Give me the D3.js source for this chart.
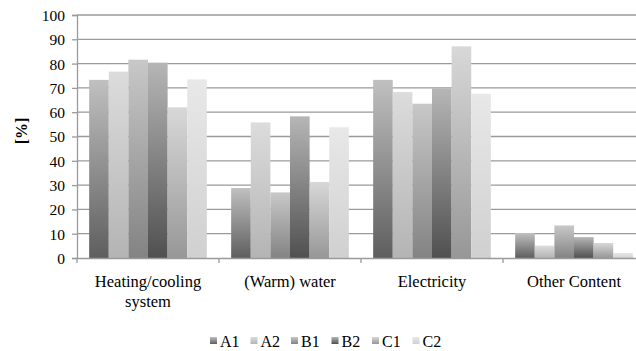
<!DOCTYPE html>
<html>
<head>
<meta charset="utf-8">
<script src="https://cdn.jsdelivr.net/npm/d3@7"></script>
<style>
body { margin: 0; background: #fff; }
</style>
</head>
<body>
<div id="chart"></div>
<script>
var categories = ["Heating/cooling system", "(Warm) water", "Electricity", "Other Content"];
var series = ["A1", "A2", "B1", "B2", "C1", "C2"];
var A1 = [73.3, 28.8, 73.3, 10.3];
var A2 = [76.7, 55.8, 68.3, 5.1];
var B1 = [81.6, 27.0, 63.5, 13.4];
var B2 = [80.4, 58.3, 69.8, 8.6];
var C1 = [62.0, 31.3, 87.1, 6.2];
var C2 = [73.5, 53.8, 67.6, 2.1];
var yTicks = [0, 10, 20, 30, 40, 50, 60, 70, 80, 90, 100];

var values = {A1: A1, A2: A2, B1: B1, B2: B2, C1: C1, C2: C2};

var FONT = "'Liberation Serif', 'Times New Roman', serif";

// gradient stops per series, bottom -> top
var shades = {
	A1: ["#5e5e5e", "#c0c0c0"],
	A2: ["#b4b4b4", "#dcdcdc"],
	B1: ["#838383", "#c8c8c8"],
	B2: ["#505050", "#b6b6b6"],
	C1: ["#979797", "#d8d8d8"],
	C2: ["#d0d0d0", "#e8e8e8"]
};

var margin = {top: 15, right: 0, bottom: 93, left: 77},
	width = 568,
	height = 243;

var svg = d3.select("#chart")
	.append("svg")
		.attr("width", 636)
		.attr("height", 351)
		.style("font-family", FONT);

var defs = svg.append("defs");
series.forEach(function(s) {
	var g = defs.append("linearGradient")
		.attr("id", "grad-" + s)
		.attr("x1", 0).attr("y1", 1)
		.attr("x2", 0).attr("y2", 0);
	g.append("stop").attr("offset", "0%").attr("stop-color", shades[s][0]);
	g.append("stop").attr("offset", "100%").attr("stop-color", shades[s][1]);
});

var g = svg.append("g")
	.attr("transform", "translate(" + margin.left + "," + margin.top + ")");

var x = d3.scaleBand()
	.domain(categories)
	.range([0, width])
	.paddingInner(0)
	.paddingOuter(0);

var xSub = d3.scaleBand()
	.domain(series)
	.range([0, x.bandwidth()])
	.paddingOuter(0.62)
	.paddingInner(0);

var y = d3.scaleLinear()
	.domain([0, 100])
	.range([height, 0]);

// gridlines
g.append("g")
	.selectAll("line")
	.data(yTicks.slice(1))
	.enter().append("line")
		.attr("x1", 0)
		.attr("x2", width)
		.attr("y1", function(d) { return y(d); })
		.attr("y2", function(d) { return y(d); })
		.attr("stroke", "#9a9a9a")
		.attr("stroke-width", 1.3);

// y axis
var yAxis = g.append("g")
	.call(d3.axisLeft(y).tickValues(yTicks).tickSize(5).tickPadding(7));
yAxis.attr("font-family", null).attr("font-size", null);
yAxis.select(".domain").attr("stroke", "#9a9a9a").attr("stroke-width", 1.3);
yAxis.selectAll(".tick line").attr("stroke", "#9a9a9a").attr("stroke-width", 1.3);
yAxis.selectAll("text")
	.style("font-size", "15.5px")
	.style("font-family", FONT)
	.attr("dy", "0.35em");

// bars
g.append("g")
	.selectAll("g")
	.data(categories)
	.enter()
	.append("g")
		.attr("transform", function(d) { return "translate(" + x(d) + ",0)"; })
	.selectAll("rect")
	.data(function(d, i) { return series.map(function(s) { return {key: s, value: values[s][i]}; }); })
	.enter().append("rect")
		.attr("x", function(d) { return xSub(d.key); })
		.attr("y", function(d) { return y(d.value); })
		.attr("width", xSub.bandwidth())
		.attr("height", function(d) { return height - y(d.value); })
		.attr("fill", function(d) { return "url(#grad-" + d.key + ")"; });

// x axis
var xAxis = g.append("g")
	.attr("transform", "translate(0," + height + ")")
	.call(d3.axisBottom(x).tickSize(0).tickFormat(""));
xAxis.attr("font-family", null).attr("font-size", null);
xAxis.select(".domain").attr("stroke", "#9a9a9a").attr("stroke-width", 1.3);

// category boundary ticks
xAxis.selectAll(".bound")
	.data(categories)
	.enter().append("line")
		.attr("x1", function(d) { return x(d); })
		.attr("x2", function(d) { return x(d); })
		.attr("y1", 0)
		.attr("y2", 5)
		.attr("stroke", "#9a9a9a")
		.attr("stroke-width", 1.3);

// category labels (wrapped like the original)
var labelLines = {
	"Heating/cooling system": ["Heating/cooling", "system"]
};
xAxis.selectAll(".cat")
	.data(categories)
	.enter().append("text")
		.attr("class", "cat")
		.attr("text-anchor", "middle")
		.attr("fill", "#000")
		.attr("transform", function(d) { return "translate(" + (x(d) + x.bandwidth() / 2) + ",29)"; })
		.style("font-family", FONT)
		.style("font-size", "16.5px")
		.each(function(d) {
			var lines = labelLines[d] || [d];
			var t = d3.select(this);
			lines.forEach(function(l, i) {
				t.append("tspan").attr("x", 0).attr("dy", i == 0 ? 0 : 20).text(l);
			});
		});

// y label
svg.append("text")
	.attr("transform", "translate(27,131) rotate(-90)")
	.attr("text-anchor", "middle")
	.style("font-family", FONT)
	.style("font-size", "16px")
	.style("font-weight", "bold")
	.text("[%]");

// legend
var legend = svg.append("g")
	.attr("transform", "translate(210,342)");
var item = legend.selectAll("g")
	.data(series)
	.enter().append("g")
		.attr("transform", function(d, i) { return "translate(" + (i * 40.5) + ",0)"; });
item.append("rect")
	.attr("x", 0)
	.attr("y", -5)
	.attr("width", 7)
	.attr("height", 7)
	.attr("fill", function(d) { return "url(#grad-" + d + ")"; });
item.append("text")
	.attr("x", 10)
	.attr("y", 5)
	.style("font-family", FONT)
	.style("font-size", "16px")
	.text(function(d) { return d; });
</script>
</body>
</html>
